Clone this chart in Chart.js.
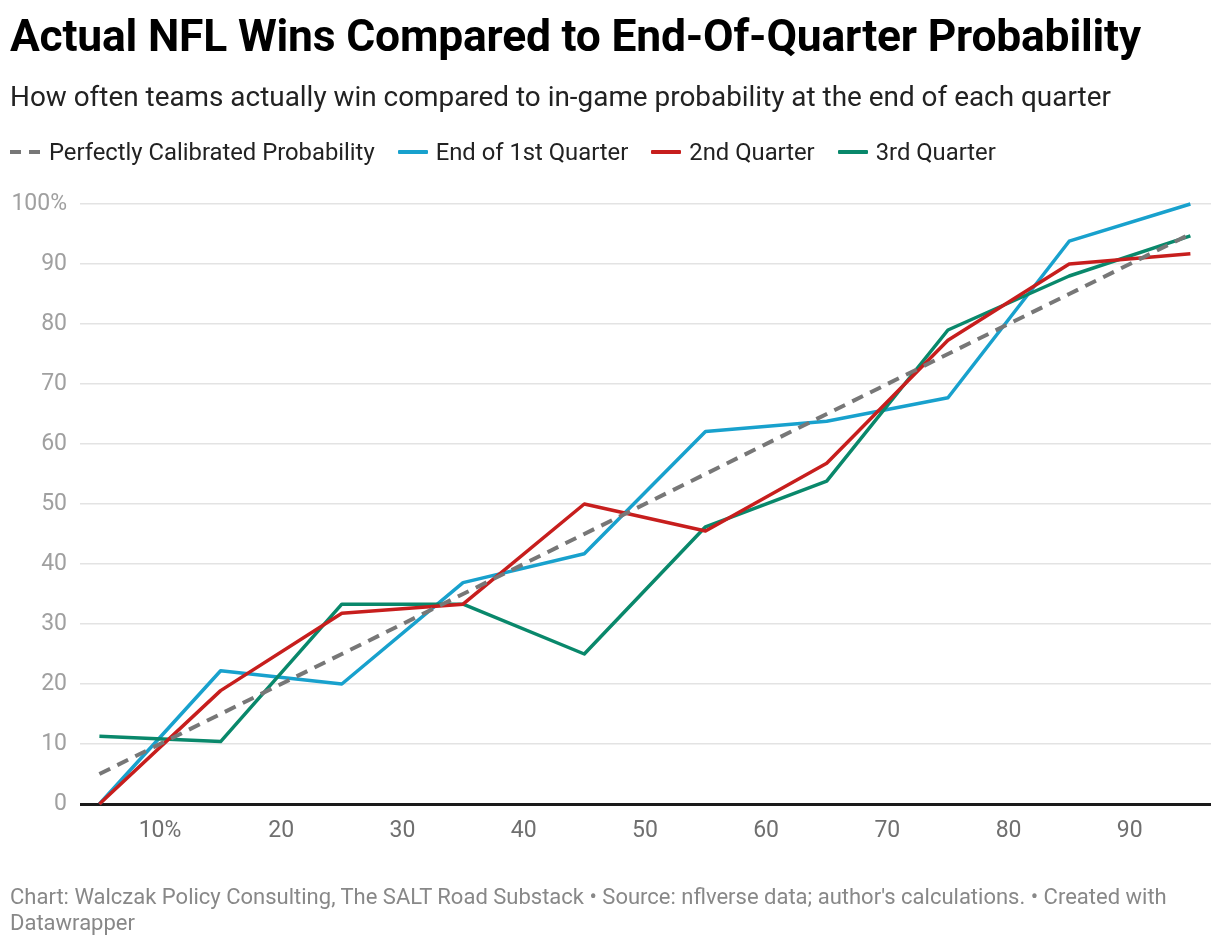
<!DOCTYPE html>
<html>
<head>
<meta charset="utf-8">
<script src="https://cdn.jsdelivr.net/npm/chart.js@4/dist/chart.umd.min.js"></script>
<style>
  html, body { margin:0; padding:0; background:#fff; }
  body { width:1220px; height:946px; position:relative; overflow:hidden; font-family: Roboto, "Noto Sans", sans-serif; }
  #wrap { position:absolute; left:0; top:0; width:1220px; height:946px; }
  .title { position:absolute; left:10px; top:8px; font-size:44.4px; line-height:56px; font-weight:700; color:#000; white-space:nowrap; letter-spacing:-0.2px; }
  .subtitle { position:absolute; left:10px; top:79px; font-size:27.9px; line-height:36px; color:#222; white-space:nowrap; }
  .legend { position:absolute; left:10px; top:137px; height:30px; font-size:23.8px; color:#222; display:flex; align-items:center; white-space:nowrap; }
  .legend .item { display:flex; align-items:center; margin-right:23px; }
  .legend .sw { width:30px; height:4px; margin-right:8px; border-radius:1px; }
  .legend .dash { width:30px; height:4px; margin-right:9px; background: repeating-linear-gradient(90deg, #777 0 11px, transparent 11px 19px); }
  .footer { position:absolute; left:10px; top:884px; width:1180px; font-size:22px; line-height:26px; color:#888; }
</style>
</head>
<body>
<div id="wrap"><canvas id="c"></canvas></div>
<div class="title">Actual NFL Wins Compared to End-Of-Quarter Probability</div>
<div class="subtitle">How often teams actually win compared to in-game probability at the end of each quarter</div>
<div class="legend" id="legend"></div>
<div class="footer">Chart: Walczak Policy Consulting, The SALT Road Substack • Source: nflverse data; author's calculations. • Created with Datawrapper</div>
<script>
// ---- data ----
const probabilityBins = [5, 15, 25, 35, 45, 55, 65, 75, 85, 95];
const perfectlyCalibrated = [5, 15, 25, 35, 45, 55, 65, 75, 85, 95];
const endOfQ1 = [0, 22.2, 20.0, 36.9, 41.7, 62.1, 63.8, 67.7, 93.8, 100];
const endOfQ2 = [0, 18.9, 31.8, 33.3, 50.0, 45.5, 56.8, 77.3, 90.0, 91.7];
const endOfQ3 = [11.3, 10.4, 33.3, 33.3, 25.0, 46.2, 53.8, 79.0, 88.0, 94.7];
const seriesNames = ["Perfectly Calibrated Probability", "End of 1st Quarter", "2nd Quarter", "3rd Quarter"];
const xTickValues = [10, 20, 30, 40, 50, 60, 70, 80, 90];
const xTickLabels = ["10%", "20", "30", "40", "50", "60", "70", "80", "90"];
const yTickValues = [0, 10, 20, 30, 40, 50, 60, 70, 80, 90, 100];
const yTickLabels = ["0", "10", "20", "30", "40", "50", "60", "70", "80", "90", "100%"];

const colors = ["#777777", "#18a1cd", "#c71e1d", "#09886b"];

function pts(arr) { return probabilityBins.map((x, i) => ({ x: x, y: arr[i] })); }

const datasets = [
  { label: seriesNames[0], data: pts(perfectlyCalibrated), borderColor: colors[0], borderDash: [12, 8], borderWidth: 4, order: 0 },
  { label: seriesNames[1], data: pts(endOfQ1), borderColor: colors[1], borderWidth: 3.5, order: 3 },
  { label: seriesNames[2], data: pts(endOfQ2), borderColor: colors[2], borderWidth: 3.5, order: 1 },
  { label: seriesNames[3], data: pts(endOfQ3), borderColor: colors[3], borderWidth: 3.5, order: 2 }
].map(d => Object.assign({ pointRadius: 0, pointHoverRadius: 0, tension: 0, fill: false, borderJoinStyle: 'round', clip: 10 }, d));

// HTML legend
const lg = document.getElementById('legend');
seriesNames.forEach((n, i) => {
  const it = document.createElement('div'); it.className = 'item';
  const sw = document.createElement('span'); sw.className = i === 0 ? 'dash' : 'sw';
  if (i > 0) sw.style.background = colors[i];
  const t = document.createElement('span'); t.textContent = n;
  it.appendChild(sw); it.appendChild(t); lg.appendChild(it);
});

new Chart(document.getElementById('c'), {
  type: 'line',
  data: { datasets: datasets },
  options: {
    responsive: true,
    maintainAspectRatio: false,
    animation: false,
    events: [],
    layout: { padding: { top: 204, bottom: 102, left: 0, right: 9 } },
    plugins: { legend: { display: false }, tooltip: { enabled: false } },
    scales: {
      x: {
        type: 'linear', min: 3.4, max: 96.7,
        afterBuildTicks: s => { s.ticks = xTickValues.map(v => ({ value: v })); },
        afterFit: s => { s.height = 40; },
        ticks: {
          callback: (v) => { const i = xTickValues.indexOf(v); return i >= 0 ? xTickLabels[i] : ''; },
          color: '#6f6f6f', font: { family: 'Roboto', size: 23 }, padding: 13, maxRotation: 0, autoSkip: false
        },
        grid: { display: false, drawTicks: false },
        border: { display: false }
      },
      y: {
        type: 'linear', min: 0, max: 100,
        afterBuildTicks: s => { s.ticks = yTickValues.map(v => ({ value: v })); },
        afterFit: s => { s.width = 80; },
        ticks: {
          callback: (v) => { const i = yTickValues.indexOf(v); return i >= 0 ? yTickLabels[i] : ''; },
          color: '#a0a0a0', font: { family: 'Roboto', size: 23 }, padding: 13
        },
        grid: {
          drawTicks: false,
          color: c => (c.tick && c.tick.value === 0) ? '#1a1a1a' : '#e3e3e3',
          lineWidth: c => (c.tick && c.tick.value === 0) ? 3 : 1.5
        },
        border: { display: false }
      }
    }
  }
});
</script>
</body>
</html>
